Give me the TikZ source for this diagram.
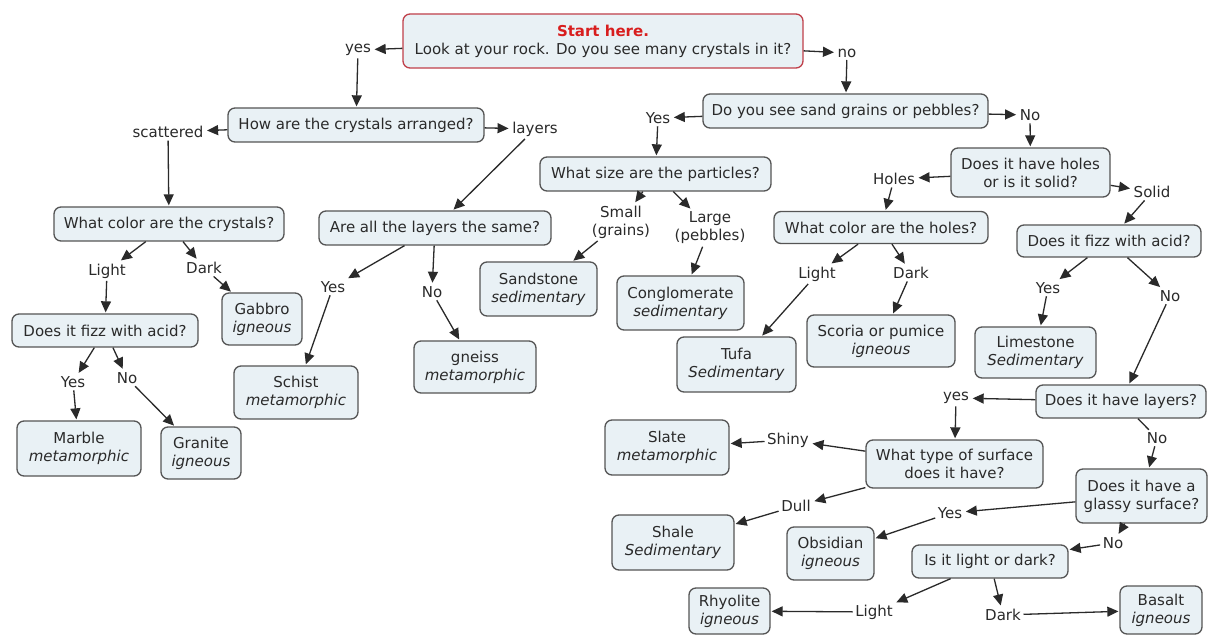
\documentclass[tikz,border=0pt]{standalone}
\usepackage{fontspec}
\setmainfont{DejaVu Sans}
\usetikzlibrary{arrows.meta}
\definecolor{boxfill}{HTML}{E9F1F5}
\definecolor{boxline}{HTML}{555555}
\definecolor{startline}{HTML}{C0404A}
\definecolor{starttext}{HTML}{D81E1E}
\definecolor{ink}{HTML}{2A2A2A}
\begin{document}
\begin{tikzpicture}[x=1pt,y=-1pt,
  font=\fontsize{15}{18}\selectfont, text=ink,
  concept/.style={draw=boxline, fill=boxfill, line width=1.3pt, rounded corners=7pt, align=center, inner sep=2pt},
  startbox/.style={concept, draw=startline},
  phrase/.style={align=center, inner sep=2.5pt},
  link/.style={draw=ink, line width=1.3pt, -{Triangle[length=11pt,width=10pt]}, shorten >=1pt},
  tick/.style={draw=ink, line width=1.3pt}
]
\fill[white] (0,0) rectangle (1208,636);
\useasboundingbox (0,0) rectangle (1208,636);

% ---------- concepts ----------
\node[startbox, minimum width=400pt, minimum height=54pt] (start) at (603,41)
  {{\bfseries\color{starttext}Start here.}\\Look at your rock. Do you see many crystals in it?};
\node[concept, minimum width=256pt, minimum height=34pt] (arr) at (356,125) {How are the crystals arranged?};
\node[concept, minimum width=230pt, minimum height=34pt] (colc) at (169,224) {What color are the crystals?};
\node[concept, minimum width=232pt, minimum height=34pt] (lay) at (435,228) {Are all the layers the same?};
\node[concept, minimum width=186pt, minimum height=33pt] (fizzA) at (105,330.5) {Does it fizz with acid?};
\node[concept, minimum width=80pt, minimum height=52pt] (gabbro) at (262,319) {Gabbro\\\textit{igneous}};
\node[concept, minimum width=124pt, minimum height=53pt] (schist) at (296,392.5) {Schist\\\textit{metamorphic}};
\node[concept, minimum width=122pt, minimum height=52pt] (gneiss) at (475,367) {gneiss\\\textit{metamorphic}};
\node[concept, minimum width=124pt, minimum height=55pt] (marble) at (79,448.5) {Marble\\\textit{metamorphic}};
\node[concept, minimum width=80pt, minimum height=52pt] (granite) at (201,453) {Granite\\\textit{igneous}};

\node[concept, minimum width=285pt, minimum height=34pt] (sand) at (845.5,111) {Do you see sand grains or pebbles?};
\node[concept, minimum width=231pt, minimum height=34pt] (size) at (655.5,174) {What size are the particles?};
\node[concept, minimum width=117pt, minimum height=54pt] (sandstone) at (538.5,289) {Sandstone\\\textit{sedimentary}};
\node[concept, minimum width=127pt, minimum height=54pt] (congl) at (680.5,303) {Conglomerate\\\textit{sedimentary}};
\node[concept, minimum width=159pt, minimum height=49pt] (holes) at (1030.5,172.5) {Does it have holes\\or is it solid?};
\node[concept, minimum width=214pt, minimum height=32pt] (colh) at (881,227.5) {What color are the holes?};
\node[concept, minimum width=184pt, minimum height=32pt] (fizzB) at (1109,241) {Does it fizz with acid?};
\node[concept, minimum width=119pt, minimum height=55pt] (tufa) at (736.5,364.5) {Tufa\\\textit{Sedimentary}};
\node[concept, minimum width=148pt, minimum height=52pt] (scoria) at (881,341) {Scoria or pumice\\\textit{igneous}};
\node[concept, minimum width=121pt, minimum height=51pt] (lime) at (1035.5,352.5) {Limestone\\\textit{Sedimentary}};
\node[concept, minimum width=170pt, minimum height=33pt] (layq) at (1121,401.5) {Does it have layers?};
\node[concept, minimum width=177pt, minimum height=48pt] (surf) at (954.5,464) {What type of surface\\does it have?};
\node[concept, minimum width=124pt, minimum height=55pt] (slate) at (667,447.5) {Slate\\\textit{metamorphic}};
\node[concept, minimum width=122pt, minimum height=55pt] (shale) at (673,542.5) {Shale\\\textit{Sedimentary}};
\node[concept, minimum width=131pt, minimum height=54pt] (glassy) at (1141.5,496) {Does it have a\\glassy surface?};
\node[concept, minimum width=87pt, minimum height=53pt] (obsid) at (830.5,553.5) {Obsidian\\\textit{igneous}};
\node[concept, minimum width=156pt, minimum height=33pt] (lord) at (990,561.5) {Is it light or dark?};
\node[concept, minimum width=81pt, minimum height=46pt] (rhyo) at (729.5,611) {Rhyolite\\\textit{igneous}};
\node[concept, minimum width=82pt, minimum height=48pt] (basalt) at (1161,610) {Basalt\\\textit{igneous}};

% ---------- linking phrases ----------
\node[phrase] (yes1) at (358,50) {yes};
\node[phrase] (no1) at (847,53) {no};
\node[phrase] (scat) at (168,132) {scattered};
\node[phrase] (layers) at (535,129) {layers};
\node[phrase] (lightC) at (107,271) {Light};
\node[phrase] (darkC) at (204,268) {Dark};
\node[phrase] (yesL) at (333,287) {Yes};
\node[phrase] (noL) at (432,292) {No};
\node[phrase] (yesA) at (73,382) {Yes};
\node[phrase] (noA) at (127,378) {No};
\node[phrase] (yesS) at (658,118) {Yes};
\node[phrase] (noS) at (1030,115) {No};
\node[phrase] (small) at (621,222) {Small\\(grains)};
\node[phrase] (large) at (710,228) {Large\\(pebbles)};
\node[phrase] (holesL) at (894,179) {Holes};
\node[phrase] (solid) at (1152,192) {Solid};
\node[phrase] (lightH) at (817,274) {Light};
\node[phrase] (darkH) at (911,273) {Dark};
\node[phrase] (yesB) at (1048,288) {Yes};
\node[phrase] (noB) at (1170,296) {No};
\node[phrase] (yes2) at (956,398) {yes};
\node[phrase] (noLay) at (1157,438) {No};
\node[phrase] (shiny) at (788,440) {Shiny};
\node[phrase] (dull) at (796,506) {Dull};
\node[phrase] (yesG) at (950,513) {Yes};
\node[phrase] (noG) at (1113,543) {No};
\node[phrase] (lightR) at (874,612) {Light};
\node[phrase] (darkR) at (1003,615) {Dark};

% ---------- links ----------
\draw[link] (start) -- (yes1);
\draw[link] (yes1) -- (arr);
\draw[link] (start) -- (no1);
\draw[link] (no1) -- (sand);

\draw[link] (arr) -- (scat);
\draw[link] (scat) -- (colc);
\draw[link] (arr) -- (layers);
\draw[link] (layers) -- (lay);
\draw[link] (colc) -- (lightC);
\draw[link] (lightC) -- (fizzA);
\draw[link] (colc) -- (darkC);
\draw[link] (darkC) -- (gabbro);
\draw[link] (fizzA) -- (yesA);
\draw[link] (yesA) -- (marble);
\draw[link] (fizzA) -- (noA);
\draw[link] (noA) -- (granite);
\draw[link] (lay) -- (yesL);
\draw[link] (yesL) -- (schist);
\draw[link] (lay) -- (noL);
\draw[link] (noL) -- (gneiss);

\draw[link] (sand) -- (yesS);
\draw[link] (yesS) -- (size);
\draw[link] (sand) -- (noS);
\draw[link] (noS) -- (holes);
\draw[link] (size) -- (small);
\draw[link] (small) -- (sandstone);
\draw[link] (size) -- (large);
\draw[link] (large) -- (congl);
\draw[link] (holes) -- (holesL);
\draw[link] (holesL) -- (colh);
\draw[link] (holes) -- (solid);
\draw[link] (solid) -- (fizzB);
\draw[link] (colh) -- (lightH);
\draw[link] (lightH) -- (tufa);
\draw[link] (colh) -- (darkH);
\draw[link] (darkH) -- (scoria);
\draw[link] (fizzB) -- (yesB);
\draw[link] (yesB) -- (lime);
\draw[link] (fizzB) -- (noB);
\draw[link] (noB) -- (layq);

\draw[link] (layq) -- (yes2);
\draw[link] (yes2) -- (surf);
\draw[tick] (layq) -- (noLay);
\draw[link] (noLay) -- (glassy);
\draw[link] (surf) -- (shiny);
\draw[link] (shiny) -- (slate);
\draw[link] (surf) -- (dull);
\draw[link] (dull) -- (shale);
\draw[link] (glassy) -- (yesG);
\draw[link] (yesG) -- (obsid);
\draw[link] (glassy) -- (noG);
\draw[link] (noG) -- (lord);
\draw[link] (lord) -- (lightR);
\draw[link] (lightR) -- (rhyo);
\draw[link] (lord) -- (darkR);
\draw[link] (darkR) -- (basalt);
\end{tikzpicture}
\end{document}
